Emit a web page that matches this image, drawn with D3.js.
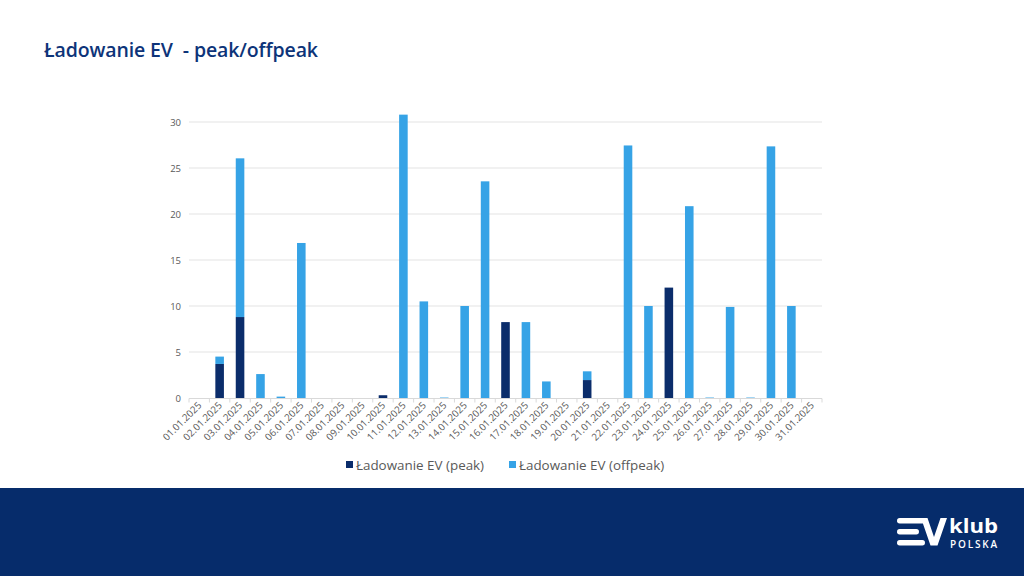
<!DOCTYPE html>
<html><head><meta charset="utf-8">
<script src="https://cdn.jsdelivr.net/npm/d3@7"></script>
<style>body{margin:0;background:#fff;} svg{display:block;} text{white-space:pre;}</style>
</head><body>
<script>
const categories = ["01.01.2025","02.01.2025","03.01.2025","04.01.2025","05.01.2025","06.01.2025","07.01.2025","08.01.2025","09.01.2025","10.01.2025","11.01.2025","12.01.2025","13.01.2025","14.01.2025","15.01.2025","16.01.2025","17.01.2025","18.01.2025","19.01.2025","20.01.2025","21.01.2025","22.01.2025","23.01.2025","24.01.2025","25.01.2025","26.01.2025","27.01.2025","28.01.2025","29.01.2025","30.01.2025","31.01.2025"];
const peak =    [0,3.7,8.8,0,0,0,0,0,0,0.3,0,0,0,0,0,8.25,0,0,0,1.95,0,0,0,12.0,0,0,0,0,0,0,0];
const offpeak = [0,0.8,17.25,2.6,0.15,16.85,0,0,0,0,30.8,10.5,0.05,10.0,23.55,0,8.25,1.8,0,0.95,0,27.45,10.0,0,20.85,0.05,9.9,0.05,27.35,10.0,0];
const yTicks = [0,5,10,15,20,25,30];
const seriesNames = ["Ładowanie EV (peak)","Ładowanie EV (offpeak)"];
const colors = ["#0B2D6B","#36A3E6"];
const title = "Ładowanie EV  - peak/offpeak";

const W=1024,H=576;
const svg=d3.select("body").append("svg").attr("width",W).attr("height",H);
svg.append("rect").attr("width",W).attr("height",H).attr("fill","#fff");

svg.append("text").attr("x",44).attr("y",57).text(title)
  .attr("font-family","'Open Sans',sans-serif").attr("font-weight",600).attr("font-size",19.5)
  .attr("fill","#0D3479").attr("textLength",274).attr("lengthAdjust","spacing");

const x=d3.scaleBand().domain(categories).range([189,822]).paddingInner(0.58).paddingOuter(0.29);
const y=d3.scaleLinear().domain([0,30]).range([398,122]);

const g=svg.append("g");
g.selectAll("line.grid").data(yTicks.slice(1)).join("line")
  .attr("x1",189).attr("x2",822).attr("y1",d=>y(d)).attr("y2",d=>y(d))
  .attr("stroke","#E3E3E3").attr("stroke-width",1);
g.selectAll("text.yl").data(yTicks).join("text")
  .attr("x",181).attr("y",d=>y(d)+3.5).attr("text-anchor","end").text(d=>d)
  .attr("font-family","'Open Sans',sans-serif").attr("font-size",9.5).attr("fill","#595959");

const stack=d3.stack().keys([0,1]).value((d,k)=>k===0?peak[d]:offpeak[d])(d3.range(categories.length));
stack.forEach((s,k)=>{
  g.selectAll(null).data(s).join("rect")
   .attr("x",(d,i)=>x(categories[i])).attr("width",x.bandwidth())
   .attr("y",d=>y(d[1])).attr("height",d=>Math.max(0,y(d[0])-y(d[1])))
   .attr("fill",colors[k]);
});

g.append("line").attr("x1",189).attr("x2",822).attr("y1",398.5).attr("y2",398.5).attr("stroke","#D9D9D9");
g.selectAll("line.tk").data(d3.range(categories.length+1)).join("line")
  .attr("x1",i=>189+i*(633/31)).attr("x2",i=>189+i*(633/31)).attr("y1",398.5).attr("y2",402.5).attr("stroke","#D9D9D9");
g.selectAll("text.xl").data(categories).join("text")
  .attr("transform",d=>`translate(${x(d)+x.bandwidth()/2+3},${406}) rotate(-45)`)
  .attr("text-anchor","end").text(d=>d)
  .attr("font-family","'Open Sans',sans-serif").attr("font-size",9.8).attr("fill","#595959");

const leg=svg.append("g");
const legItems=[{x:346,name:seriesNames[0],c:colors[0]},{x:509,name:seriesNames[1],c:colors[1]}];
legItems.forEach(it=>{
  leg.append("rect").attr("x",it.x).attr("y",461).attr("width",7).attr("height",7).attr("fill",it.c);
  leg.append("text").attr("x",it.x+10).attr("y",470).text(it.name)
   .attr("font-family","'Open Sans',sans-serif").attr("font-size",13.4).attr("fill","#595959");
});

svg.append("rect").attr("x",0).attr("y",488).attr("width",W).attr("height",H-488).attr("fill","#062C6B");
const lg=svg.append("g").attr("fill","#fff");
[518,529,540].forEach((yy,i)=>lg.append("rect").attr("x",897).attr("y",yy).attr("width",i===1?22:28).attr("height",5.5).attr("rx",2.7));
lg.append("path").attr("d","M921,518 L927.5,518 L934,537 L940.5,518 L947,518 L937.5,545.5 L930.5,545.5 Z");
lg.append("text").attr("x",949).attr("y",533).text("klub").attr("font-family","'Open Sans',sans-serif").attr("font-weight",700).attr("font-size",19).attr("fill","#fff").attr("textLength",49).attr("lengthAdjust","spacingAndGlyphs");
lg.append("text").attr("x",950).attr("y",547.5).text("POLSKA").attr("font-family","'Open Sans',sans-serif").attr("font-weight",600).attr("font-size",10).attr("fill","#fff").attr("textLength",47).attr("lengthAdjust","spacing");
</script>
</body></html>
